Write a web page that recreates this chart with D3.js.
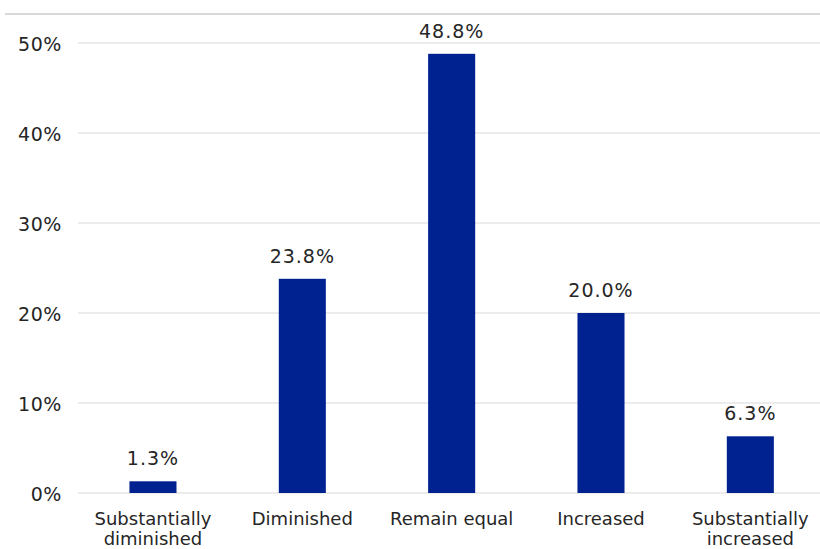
<!DOCTYPE html>
<html><head><meta charset="utf-8">
<script src="https://cdn.jsdelivr.net/npm/d3@7/dist/d3.min.js"></script>
<style>body{margin:0;background:#fff}svg{display:block}</style>
</head><body>
<script>
const categories = [["Substantially","diminished"],["Diminished"],["Remain equal"],["Increased"],["Substantially","increased"]];
const values = [1.3, 23.8, 48.8, 20.0, 6.3];
const valueLabels = ["1.3%","23.8%","48.8%","20.0%","6.3%"];
const yTicks = [0,10,20,30,40,50];

const W=820,H=549;
const svg=d3.select("body").append("svg").attr("width",W).attr("height",H);
const font="DejaVu Sans, Verdana, sans-serif";
const txt="#262626";
svg.append("line").attr("x1",5).attr("x2",W).attr("y1",14).attr("y2",14).attr("stroke","#d9d9d9").attr("stroke-width",2);

const x=d3.scaleBand().domain(d3.range(values.length)).range([78.3,825]).padding(0);
const y=d3.scaleLinear().domain([0,50]).range([493,43]);
const bw=x.bandwidth()*0.315;

const g=svg.append("g");
g.selectAll("line.grid").data(yTicks).enter().append("line")
 .attr("x1",78).attr("x2",W).attr("y1",d=>y(d)).attr("y2",d=>y(d))
 .attr("stroke","#d9d9d9").attr("stroke-width",1);
g.selectAll("text.yt").data(yTicks).enter().append("text")
 .attr("x",62).attr("y",d=>y(d)+8).attr("text-anchor","end")
 .attr("font-family",font).attr("font-size",19).attr("letter-spacing",0.6).attr("fill",txt).text(d=>d+"%");

g.selectAll("rect").data(values).enter().append("rect")
 .attr("x",(d,i)=>x(i)+x.bandwidth()/2-bw/2).attr("width",bw)
 .attr("y",d=>y(d)).attr("height",d=>y(0)-y(d)).attr("fill","#002290");

g.selectAll("text.vl").data(values).enter().append("text")
 .attr("x",(d,i)=>x(i)+x.bandwidth()/2).attr("y",d=>y(d)-16)
 .attr("text-anchor","middle").attr("font-family",font).attr("font-size",19).attr("letter-spacing",1).attr("fill",txt)
 .text((d,i)=>valueLabels[i]);

categories.forEach((lines,i)=>{
  const t=g.append("text").attr("x",x(i)+x.bandwidth()/2).attr("y",525)
   .attr("text-anchor","middle").attr("font-family",font).attr("font-size",18).attr("fill",txt);
  lines.forEach((l,j)=>t.append("tspan").attr("x",x(i)+x.bandwidth()/2).attr("dy",j?20:0).text(l));
});
</script>
</body></html>
